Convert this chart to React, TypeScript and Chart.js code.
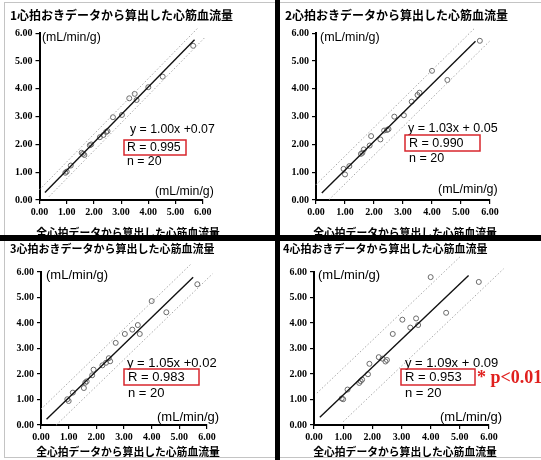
import React, { useEffect, useRef } from "react";
import { Chart, registerables } from "chart.js";

Chart.register(...registerables);

// ---- data ----
const xValues = [0.95, 1.0, 1.15, 1.55, 1.6, 1.65, 1.85, 1.9, 2.22, 2.35, 2.45, 2.5, 2.7, 3.03, 3.3, 3.5, 3.57, 4.0, 4.53, 5.65];
const yValues1 = [0.98, 1.02, 1.24, 1.7, 1.66, 1.62, 1.97, 2.0, 2.26, 2.34, 2.45, 2.48, 2.98, 3.06, 3.66, 3.82, 3.6, 4.06, 4.44, 5.55];
const yValues2 = [1.12, 0.92, 1.22, 1.66, 1.7, 1.82, 1.96, 2.3, 2.18, 2.5, 2.52, 2.55, 3.0, 3.05, 3.54, 3.78, 3.86, 4.65, 4.32, 5.73];
const yValues3 = [1.01, 0.94, 1.27, 1.45, 1.66, 1.71, 1.95, 2.17, 2.34, 2.44, 2.62, 2.5, 3.22, 3.57, 3.74, 3.92, 3.57, 4.86, 4.42, 5.52];
const yValues4 = [1.04, 1.01, 1.39, 1.65, 1.72, 1.78, 1.99, 2.4, 2.66, 2.6, 2.49, 2.55, 3.57, 4.13, 3.82, 4.18, 3.92, 5.8, 4.4, 5.61];
const ySeries = [yValues1, yValues2, yValues3, yValues4];

const slopes = [1.0, 1.03, 1.05, 1.09];
const intercepts = [0.07, 0.05, 0.02, 0.09];
const lineStart = 0.2;
const lineEnds = [5.7, 5.5, 5.5, 5.3];
const bandOffsets = [0.3, 0.5, 0.6, 1.05];
const bandUpperRanges = [[0, 5.85], [0, 5.45], [0, 5.4], [0.1, 5.0]];
const bandLowerRanges = [[0.35, 6.1], [0.45, 6.0], [0.55, 6.2], [1.0, 6.5]];

const eqLabels = ["y = 1.00x +0.07", "y = 1.03x + 0.05", "y = 1.05x +0.02", "y = 1.09x + 0.09"];
const rLabels = ["R = 0.995", "R = 0.990", "R = 0.983", "R = 0.953"];
const nLabels = ["n = 20", "n = 20", "n = 20", "n = 20"];
const panelTitles = [
  "1心拍おきデータから算出した心筋血流量",
  "2心拍おきデータから算出した心筋血流量",
  "3心拍おきデータから算出した心筋血流量",
  "4心拍おきデータから算出した心筋血流量",
];
const xAxisTitle = "全心拍データから算出した心筋血流量";
const unitLabel = "(mL/min/g)";
const sigLabels = ["", "", "", "* p<0.01"];
const tickValues = [0, 1, 2, 3, 4, 5, 6];

// ---- layout ----
type Pt = { x: number; y: number };
type Layout = {
  left: number; top: number; width: number; height: number;
  area: { l: number; r: number; t: number; b: number };
  titleSize: number; textSize: number;
  title: Pt; unitTop: Pt; eq: Pt; r: Pt; n: Pt; unitBottom: Pt; xTitle: Pt; sig: Pt;
  box: { x: number; y: number; w: number; h: number };
};

const layouts: Layout[] = [
  {
    left: 0, top: 0, width: 275, height: 236,
    area: { l: 39.5, r: 202.7, t: 33.3, b: 200 },
    titleSize: 12, textSize: 12.3,
    title: { x: 10, y: 15 }, unitTop: { x: 42, y: 38 }, eq: { x: 130, y: 130 },
    box: { x: 124, y: 140, w: 62, h: 15 }, r: { x: 127, y: 147.5 }, n: { x: 127, y: 162 },
    unitBottom: { x: 155, y: 192 }, xTitle: { x: 128, y: 233 }, sig: { x: 0, y: 0 },
  },
  {
    left: 280, top: 0, width: 261, height: 236,
    area: { l: 36, r: 210, t: 33.3, b: 200 },
    titleSize: 12, textSize: 12.5,
    title: { x: 5, y: 15 }, unitTop: { x: 40, y: 38 }, eq: { x: 128, y: 129 },
    box: { x: 125, y: 135, w: 75, h: 16 }, r: { x: 129, y: 143.5 }, n: { x: 129, y: 159 },
    unitBottom: { x: 158, y: 190 }, xTitle: { x: 125, y: 233 }, sig: { x: 0, y: 0 },
  },
  {
    left: 0, top: 241, width: 275, height: 219,
    area: { l: 41, r: 207, t: 31, b: 184 },
    titleSize: 11, textSize: 13,
    title: { x: 10, y: 8 }, unitTop: { x: 46, y: 34 }, eq: { x: 127, y: 122 },
    box: { x: 124, y: 128, w: 75, h: 16 }, r: { x: 128, y: 136 }, n: { x: 128, y: 152 },
    unitBottom: { x: 157, y: 176 }, xTitle: { x: 128, y: 211 }, sig: { x: 0, y: 0 },
  },
  {
    left: 280, top: 241, width: 261, height: 219,
    area: { l: 34, r: 209, t: 31, b: 184 },
    titleSize: 11, textSize: 13,
    title: { x: 3, y: 8 }, unitTop: { x: 38, y: 34 }, eq: { x: 125, y: 122 },
    box: { x: 121, y: 128, w: 74, h: 16 }, r: { x: 125, y: 136 }, n: { x: 125, y: 152 },
    unitBottom: { x: 160, y: 176 }, xTitle: { x: 125, y: 211 }, sig: { x: 197, y: 137 },
  },
];

const YW = 30;
const XH = 20;

const annotPlugin = {
  id: "annot",
  afterDraw(chart: any, _args: any, opts: any) {
    const i = opts.index as number;
    const L = layouts[i];
    const ctx = chart.ctx as CanvasRenderingContext2D;
    ctx.save();
    ctx.textBaseline = "middle";
    ctx.textAlign = "left";
    ctx.fillStyle = "#000";
    ctx.font = `bold ${L.titleSize}px 'Noto Sans CJK JP', sans-serif`;
    ctx.fillText(panelTitles[i], L.title.x, L.title.y);
    ctx.font = `${L.textSize}px 'Liberation Sans', Arial, sans-serif`;
    ctx.fillText(unitLabel, L.unitTop.x, L.unitTop.y);
    ctx.fillText(eqLabels[i], L.eq.x, L.eq.y);
    ctx.fillText(rLabels[i], L.r.x, L.r.y);
    ctx.fillText(nLabels[i], L.n.x, L.n.y);
    ctx.fillText(unitLabel, L.unitBottom.x, L.unitBottom.y);
    ctx.strokeStyle = "#d8262c";
    ctx.lineWidth = 1.5;
    ctx.strokeRect(L.box.x, L.box.y, L.box.w, L.box.h);
    ctx.textAlign = "center";
    ctx.fillStyle = "#000";
    ctx.font = `bold 10.8px 'Noto Sans CJK JP', sans-serif`;
    ctx.fillText(xAxisTitle, L.xTitle.x, L.xTitle.y);
    if (sigLabels[i]) {
      ctx.textAlign = "left";
      ctx.fillStyle = "#e0201e";
      ctx.font = `bold 18px 'Liberation Serif', 'Times New Roman', serif`;
      ctx.fillText(sigLabels[i], L.sig.x, L.sig.y);
    }
    ctx.restore();
  },
};

function buildChart(canvas: HTMLCanvasElement, i: number) {
  const L = layouts[i];
  const a = slopes[i];
  const b = intercepts[i];
  const off = bandOffsets[i];
  const pts = xValues.map((x, k) => ({ x, y: ySeries[i][k] }));
  const reg = [lineStart, lineEnds[i]].map((x) => ({ x, y: a * x + b }));
  const up = bandUpperRanges[i].map((x) => ({ x, y: a * x + b + off }));
  const lo = bandLowerRanges[i].map((x) => ({ x, y: a * x + b - off }));
  const tickFont = { family: "'Liberation Serif', 'Times New Roman', serif", weight: "bold" as const, size: 10 };
  const axisCommon = {
    type: "linear" as const,
    min: 0,
    max: 6,
    afterBuildTicks: (s: any) => {
      s.ticks = tickValues.map((v) => ({ value: v }));
    },
    grid: { display: true, drawOnChartArea: false, drawTicks: true, tickLength: 4, color: "#000", lineWidth: 1.2 },
    border: { display: true, color: "#000", width: 2 },
  };
  return new Chart(canvas, {
    type: "scatter",
    data: {
      datasets: [
        {
          data: up, showLine: true, borderColor: "#a8a8a8", borderWidth: 1, borderDash: [1.5, 2],
          pointRadius: 0, clip: false as any,
        },
        {
          data: lo, showLine: true, borderColor: "#a8a8a8", borderWidth: 1, borderDash: [1.5, 2],
          pointRadius: 0, clip: false as any,
        },
        {
          data: reg, showLine: true, borderColor: "#111", borderWidth: 1.4, pointRadius: 0, clip: false as any,
        },
        {
          data: pts, pointRadius: 2.5, pointBorderWidth: 1, pointBorderColor: "#6a6a6a",
          pointBackgroundColor: "rgba(255,255,255,0)", borderColor: "#6a6a6a", clip: false as any,
        },
      ],
    },
    options: {
      responsive: false,
      animation: false,
      devicePixelRatio: 1,
      layout: {
        padding: {
          left: L.area.l - YW,
          top: L.area.t,
          right: L.width - L.area.r,
          bottom: L.height - L.area.b - XH,
        },
      },
      plugins: {
        legend: { display: false },
        tooltip: { enabled: false },
        title: { display: false },
        annot: { index: i },
      } as any,
      scales: {
        x: {
          ...axisCommon,
          afterFit: (s: any) => { s.height = XH; },
          ticks: {
            callback: (v: any) => Number(v).toFixed(2),
            font: tickFont, color: "#000", padding: 2, maxRotation: 0, autoSkip: false,
          },
        },
        y: {
          ...axisCommon,
          afterFit: (s: any) => { s.width = YW; },
          ticks: {
            callback: (v: any) => Number(v).toFixed(2),
            font: tickFont, color: "#000", padding: 3, autoSkip: false,
          },
        },
      } as any,
    },
    plugins: [annotPlugin],
  });
}

function Panel({ index }: { index: number }) {
  const ref = useRef<HTMLCanvasElement>(null);
  const L = layouts[index];
  useEffect(() => {
    if (!ref.current) return;
    const c = buildChart(ref.current, index);
    return () => c.destroy();
  }, [index]);
  return (
    <canvas
      ref={ref}
      width={L.width}
      height={L.height}
      style={{ position: "absolute", left: L.left, top: L.top, width: L.width, height: L.height }}
    />
  );
}

export default function App() {
  return (
    <div style={{ position: "fixed", left: 0, top: 0, width: 541, height: 460, background: "#fff", overflow: "hidden" }}>
      {layouts.map((_, i) => (
        <Panel key={i} index={i} />
      ))}
      {/* light frame */}
      <div style={{ position: "absolute", left: 4, top: 2, width: 537, height: 1, background: "#c4c4c4" }} />
      <div style={{ position: "absolute", left: 4, top: 2, width: 1, height: 456, background: "#c4c4c4" }} />
      <div style={{ position: "absolute", left: 4, top: 457, width: 537, height: 1, background: "#c4c4c4" }} />
      {/* black dividers */}
      <div style={{ position: "absolute", left: 275, top: 0, width: 5, height: 460, background: "#000" }} />
      <div style={{ position: "absolute", left: 0, top: 235, width: 541, height: 6, background: "#000" }} />
    </div>
  );
}
